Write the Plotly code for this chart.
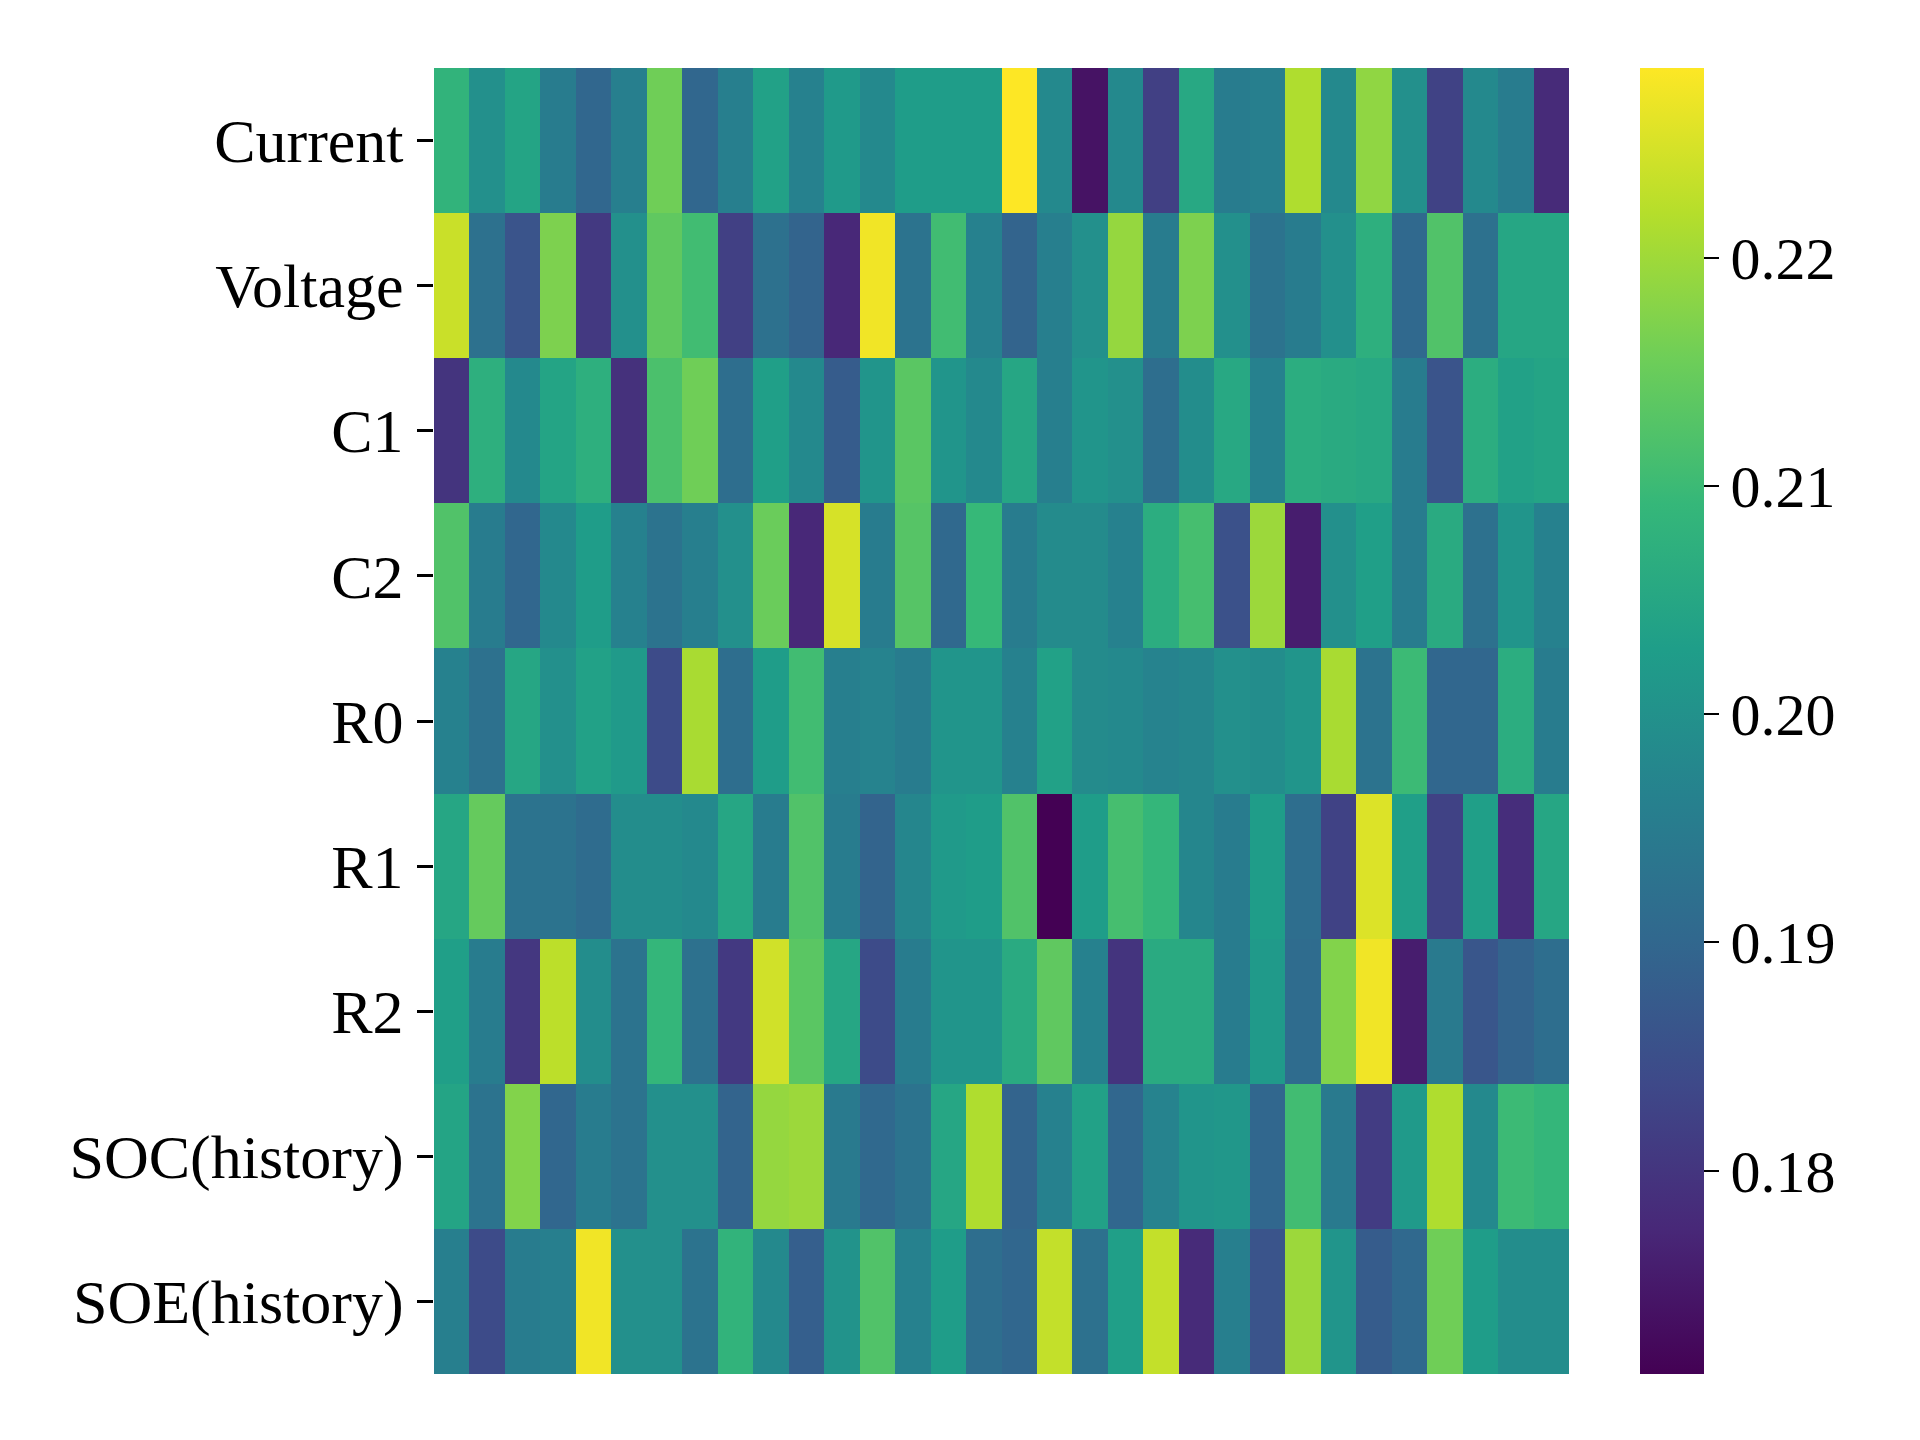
import plotly.graph_objs as go

# row labels, top to bottom
features = ["Current", "Voltage", "C1", "C2", "R0", "R1", "R2", "SOC(history)", "SOE(history)"]

# 32 columns per row
current = [0.2083, 0.1997, 0.2043, 0.1951, 0.1900, 0.1957, 0.2157, 0.1900, 0.1957, 0.2037, 0.1963, 0.2020, 0.1980, 0.2026, 0.2026, 0.2026,
           0.2283, 0.1980, 0.1740, 0.1980, 0.1820, 0.2054, 0.1951, 0.1957, 0.2214, 0.1980, 0.2186, 0.1997, 0.1825, 0.1980, 0.1951, 0.1780]
voltage = [0.2237, 0.1923, 0.1860, 0.2169, 0.1808, 0.1997, 0.2140, 0.2106, 0.1820, 0.1923, 0.1894, 0.1774, 0.2272, 0.1928, 0.2106, 0.1963,
           0.1894, 0.1957, 0.1997, 0.2191, 0.1951, 0.2169, 0.1997, 0.1928, 0.1951, 0.1997, 0.2071, 0.1905, 0.2123, 0.1923, 0.2048, 0.2048]
c1 = [0.1797, 0.2071, 0.1980, 0.2043, 0.2071, 0.1791, 0.2117, 0.2157, 0.1917, 0.2031, 0.1980, 0.1877, 0.2008, 0.2134, 0.2008, 0.1980,
      0.2048, 0.1957, 0.2008, 0.1997, 0.1917, 0.1991, 0.2054, 0.1963, 0.2066, 0.2060, 0.2054, 0.1951, 0.1860, 0.2066, 0.2037, 0.2043]
c2 = [0.2123, 0.1951, 0.1900, 0.1980, 0.2026, 0.1963, 0.1928, 0.1957, 0.1997, 0.2151, 0.1774, 0.2249, 0.1951, 0.2129, 0.1905, 0.2094,
      0.1951, 0.1986, 0.1986, 0.1963, 0.2066, 0.2111, 0.1854, 0.2197, 0.1757, 0.1997, 0.2031, 0.1951, 0.2060, 0.1923, 0.2008, 0.1963]
r0 = [0.1963, 0.1923, 0.2048, 0.1997, 0.2037, 0.2020, 0.1843, 0.2209, 0.1917, 0.2026, 0.2106, 0.1957, 0.1968, 0.1951, 0.2008, 0.2008,
      0.1963, 0.2037, 0.1986, 0.1980, 0.1968, 0.1974, 0.1997, 0.1991, 0.2008, 0.2209, 0.1928, 0.2100, 0.1900, 0.1900, 0.2066, 0.1951]
r1 = [0.2048, 0.2146, 0.1928, 0.1928, 0.1911, 0.1991, 0.1991, 0.1980, 0.2048, 0.1951, 0.2123, 0.1951, 0.1894, 0.1974, 0.2020, 0.2026,
      0.2123, 0.1711, 0.2026, 0.2111, 0.2089, 0.1974, 0.1951, 0.2026, 0.1917, 0.1825, 0.2254, 0.2031, 0.1825, 0.2031, 0.1785, 0.2048]
r2 = [0.2031, 0.1951, 0.1803, 0.2226, 0.1991, 0.1928, 0.2089, 0.1923, 0.1808, 0.2243, 0.2134, 0.2048, 0.1843, 0.1951, 0.2008, 0.2008,
      0.2060, 0.2140, 0.1963, 0.1797, 0.2060, 0.2060, 0.1951, 0.2020, 0.1911, 0.2174, 0.2272, 0.1757, 0.1946, 0.1865, 0.1894, 0.1917]
soc_hist = [0.2043, 0.1928, 0.2174, 0.1900, 0.1951, 0.1928, 0.1997, 0.1997, 0.1894, 0.2191, 0.2197, 0.1946, 0.1905, 0.1928, 0.2048, 0.2214,
            0.1894, 0.1963, 0.2037, 0.1900, 0.1968, 0.2008, 0.2014, 0.1900, 0.2106, 0.1946, 0.1814, 0.2020, 0.2214, 0.1980, 0.2100, 0.2089]
soe_hist = [0.1957, 0.1843, 0.1951, 0.1957, 0.2272, 0.1997, 0.1997, 0.1928, 0.2083, 0.1980, 0.1883, 0.2003, 0.2123, 0.1963, 0.2026, 0.1917,
            0.1900, 0.2232, 0.1923, 0.2031, 0.2232, 0.1780, 0.1957, 0.1860, 0.2197, 0.2008, 0.1877, 0.1905, 0.2157, 0.2026, 0.1991, 0.1991]

cbar_ticks = [0.18, 0.19, 0.20, 0.21, 0.22]

z = [current, voltage, c1, c2, r0, r1, r2, soc_hist, soe_hist]
zmin = 0.1711
zmax = 0.2283

font_name = "Liberation Serif, Times New Roman, serif"

heat = go.Heatmap(
    z=z,
    y=features,
    colorscale="Viridis",
    zmin=zmin,
    zmax=zmax,
    xgap=0,
    ygap=0,
    colorbar=dict(
        x=1.0626,
        xanchor="left",
        xpad=0,
        y=0.5,
        yanchor="middle",
        ypad=0,
        len=1.0,
        thickness=64,
        outlinewidth=0,
        ticks="outside",
        ticklen=15,
        tickwidth=2,
        tickcolor="black",
        tickvals=cbar_ticks,
        tickformat=".2f",
        tickfont=dict(family=font_name, size=60, color="black"),
    ),
)

fig = go.Figure(data=[heat])
# the page adds an 8px body margin, so margins are shifted to compensate
fig.update_layout(
    width=1920,
    height=1440,
    margin=dict(l=426, r=359, t=60, b=74),
    paper_bgcolor="white",
    plot_bgcolor="white",
    font=dict(family=font_name, color="black"),
    xaxis=dict(showticklabels=False, ticks="", showgrid=False, zeroline=False, showline=False),
    yaxis=dict(
        autorange="reversed",
        ticks="outside",
        ticklen=16,
        tickwidth=2.5,
        tickcolor="black",
        ticklabelstandoff=1,
        tickfont=dict(family=font_name, size=62, color="black"),
        showgrid=False,
        zeroline=False,
        showline=False,
    ),
)

fig.write_html("out.html")
